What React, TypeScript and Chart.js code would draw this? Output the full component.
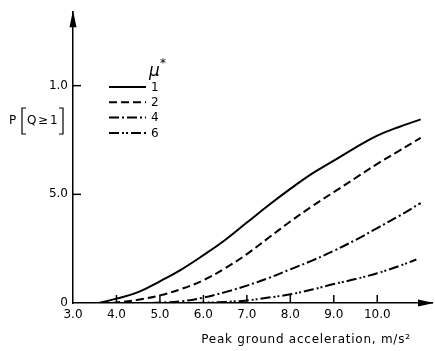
import { useEffect, useRef } from "react";
import { Chart, registerables } from "chart.js";

Chart.register(...registerables);

// Peak ground acceleration (m/s^2) and P[Q >= 1] for each mu*
const mu1X = [3.6, 4.0, 4.5, 5.0, 5.5, 6.0, 6.5, 7.0, 7.5, 8.0, 8.5, 9.0, 9.5, 10.0, 10.5, 11.0];
const mu1Y = [0, 0.02, 0.05, 0.1, 0.155, 0.22, 0.29, 0.37, 0.45, 0.525, 0.595, 0.655, 0.715, 0.77, 0.81, 0.845];

const mu2X = [3.9, 4.5, 5.0, 5.5, 6.0, 6.5, 7.0, 7.5, 8.0, 8.5, 9.0, 9.5, 10.0, 10.5, 11.0];
const mu2Y = [0, 0.015, 0.035, 0.065, 0.105, 0.16, 0.225, 0.3, 0.375, 0.445, 0.51, 0.575, 0.64, 0.7, 0.76];

const mu4X = [4.8, 5.5, 6.0, 6.5, 7.0, 7.5, 8.0, 8.5, 9.0, 9.5, 10.0, 10.5, 11.0];
const mu4Y = [0, 0.008, 0.025, 0.05, 0.08, 0.115, 0.155, 0.195, 0.24, 0.29, 0.345, 0.4, 0.46];

const mu6X = [5.8, 6.5, 7.0, 7.5, 8.0, 8.5, 9.0, 9.5, 10.0, 10.5, 10.9];
const mu6Y = [0, 0.005, 0.012, 0.025, 0.04, 0.062, 0.087, 0.11, 0.137, 0.17, 0.2];

const seriesLabels = ["1", "2", "4", "6"];

const xTickValues = [3, 4, 5, 6, 7, 8, 9, 10];
const xTickLabels = ["3.0", "4.0", "5.0", "6.0", "7.0", "8.0", "9.0", "10.0"];
const yTickValues = [0, 0.5, 1.0];
const yTickLabels = ["0", "5.0", "1.0"];

const xTitle = "Peak ground acceleration, m/s\u00B2";

const dashes: number[][] = [[], [8, 4], [10, 3, 2, 3], [10, 3, 2, 2, 2, 3]];

function pts(xs: number[], ys: number[]) {
  return xs.map((x, i) => ({ x, y: ys[i] }));
}

const FONT = "'DejaVu Sans', sans-serif";

const decorPlugin = {
  id: "decor",
  afterDraw(chart: any) {
    const ctx = chart.ctx as CanvasRenderingContext2D;
    const xs = chart.scales.x;
    const ys = chart.scales.y;
    const { left, right, top, bottom } = chart.chartArea;
    ctx.save();
    ctx.strokeStyle = "#000";
    ctx.fillStyle = "#000";
    ctx.lineWidth = 1.5;
    // inner tick marks
    xTickValues.forEach((v) => {
      if (v === xs.min) return;
      const px = xs.getPixelForValue(v);
      ctx.beginPath();
      ctx.moveTo(px, bottom);
      ctx.lineTo(px, bottom - 8);
      ctx.stroke();
    });
    yTickValues.forEach((v) => {
      if (v === ys.min) return;
      const py = ys.getPixelForValue(v);
      ctx.beginPath();
      ctx.moveTo(left, py);
      ctx.lineTo(left + 8, py);
      ctx.stroke();
    });
    // arrow heads
    ctx.beginPath();
    ctx.moveTo(left, top - 2);
    ctx.lineTo(left - 3.5, top + 15);
    ctx.lineTo(left + 3.5, top + 15);
    ctx.closePath();
    ctx.fill();
    ctx.beginPath();
    ctx.moveTo(right + 2, bottom);
    ctx.lineTo(right - 14, bottom - 3.5);
    ctx.lineTo(right - 14, bottom + 3.5);
    ctx.closePath();
    ctx.fill();

    // y-axis title P[Q>=1]
    ctx.font = `12px ${FONT}`;
    ctx.textBaseline = "middle";
    ctx.textAlign = "left";
    const ty = 121;
    ctx.fillText("P", 9, ty);
    ctx.fillText("Q", 27, ty);
    ctx.fillText("\u2265", 38, ty);
    ctx.fillText("1", 50, ty);
    ctx.lineWidth = 1.2;
    ctx.beginPath();
    ctx.moveTo(26, 108);
    ctx.lineTo(22, 108);
    ctx.lineTo(22, 134);
    ctx.lineTo(26, 134);
    ctx.stroke();
    ctx.beginPath();
    ctx.moveTo(59, 108);
    ctx.lineTo(63, 108);
    ctx.lineTo(63, 134);
    ctx.lineTo(59, 134);
    ctx.stroke();

    // x-axis title
    ctx.font = `12px ${FONT}`;
    ctx.textAlign = "center";
    (ctx as any).letterSpacing = "0.75px";
    ctx.fillText(xTitle, 306, 340);
    (ctx as any).letterSpacing = "0px";

    // legend
    ctx.font = `italic 17px ${FONT}`;
    ctx.textAlign = "left";
    ctx.fillText("\u03BC", 149, 72);
    ctx.font = `12px ${FONT}`;
    ctx.fillText("*", 160, 64);
    chart.data.datasets.forEach((ds: any, i: number) => {
      const y = 87 + i * 15.3;
      ctx.lineWidth = 2;
      ctx.setLineDash(ds.borderDash || []);
      ctx.beginPath();
      ctx.moveTo(109, y);
      ctx.lineTo(146, y);
      ctx.stroke();
      ctx.setLineDash([]);
      ctx.font = `12px ${FONT}`;
      ctx.fillText(ds.label, 151, y + 0.5);
    });
    ctx.restore();
  },
};

export default function App() {
  const ref = useRef<HTMLCanvasElement | null>(null);
  useEffect(() => {
    document.body.style.margin = "0";
    const canvas = ref.current!;
    const seriesX = [mu1X, mu2X, mu4X, mu6X];
    const seriesY = [mu1Y, mu2Y, mu4Y, mu6Y];
    const chart = new Chart(canvas, {
      type: "line",
      data: {
        datasets: seriesLabels.map((lab, i) => ({
          label: lab,
          data: pts(seriesX[i], seriesY[i]),
          borderColor: "#000",
          borderWidth: 2,
          borderDash: dashes[i],
          pointRadius: 0,
          fill: false,
          tension: 0.4,
        })),
      },
      options: {
        responsive: false,
        animation: false,
        devicePixelRatio: 1,
        layout: { padding: { left: 0, right: 3, top: 10, bottom: 0 } },
        plugins: { legend: { display: false }, tooltip: { enabled: false } },
        scales: {
          x: {
            type: "linear",
            min: 3,
            max: 11.26,
            grid: { display: false, drawTicks: false },
            border: { display: true, color: "#000", width: 1.5 },
            afterFit: (s: any) => {
              s.height = 48;
            },
            afterBuildTicks: (s: any) => {
              s.ticks = xTickValues.map((v) => ({ value: v }));
            },
            ticks: {
              padding: 5,
              autoSkip: false,
              maxRotation: 0,
              color: "#000",
              font: { family: FONT, size: 12 },
              callback: (v: any) => {
                const idx = xTickValues.indexOf(Number(v));
                return idx >= 0 ? xTickLabels[idx] : "";
              },
            },
          },
          y: {
            type: "linear",
            min: 0,
            max: 1.338,
            grid: { display: false, drawTicks: false },
            border: { display: true, color: "#000", width: 1.5 },
            afterFit: (s: any) => {
              s.width = 73;
            },
            afterBuildTicks: (s: any) => {
              s.ticks = yTickValues.map((v) => ({ value: v }));
            },
            ticks: {
              padding: 5,
              color: "#000",
              font: { family: FONT, size: 12 },
              callback: (v: any) => {
                const idx = yTickValues.indexOf(Number(v));
                return idx >= 0 ? yTickLabels[idx] : "";
              },
            },
          },
        },
      },
      plugins: [decorPlugin],
    });
    return () => chart.destroy();
  }, []);
  return (
    <div style={{ width: 435, height: 351, background: "#fff" }}>
      <canvas ref={ref} width={435} height={351} style={{ display: "block" }} />
    </div>
  );
}
